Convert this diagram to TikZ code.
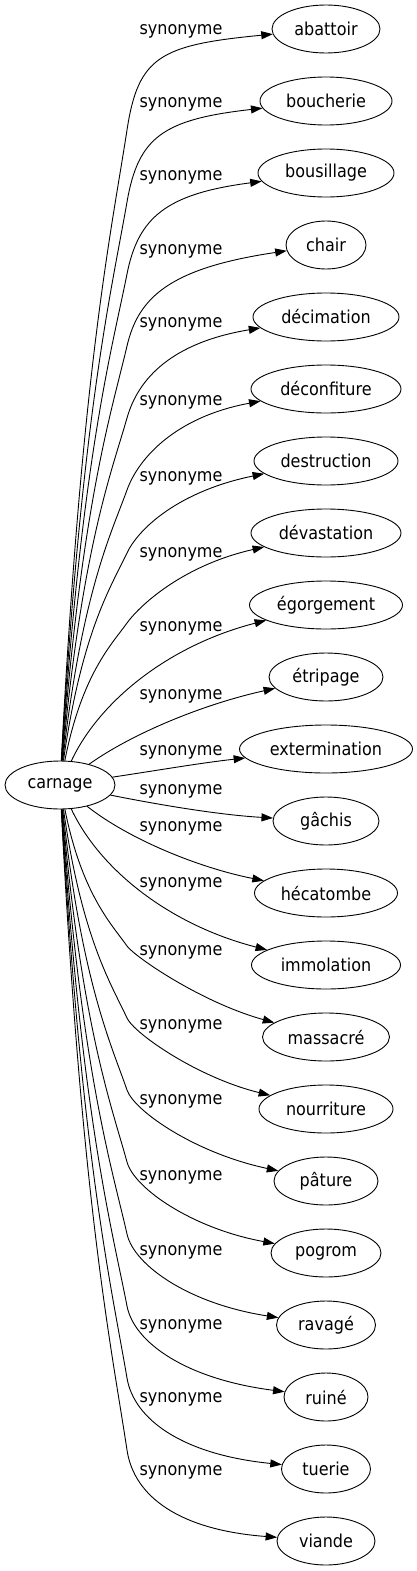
\documentclass[tikz,border=0pt]{standalone}
\usepackage{fontspec}
\setmainfont{DejaVu Sans}[FakeStretch=0.9]
\usetikzlibrary{arrows.meta,shapes.geometric}
\begin{document}
\begin{tikzpicture}[x=1pt,y=-1pt,
  every node/.style={font=\fontsize{17.8}{20}\selectfont},
  word/.style={draw,ellipse,line width=0.9pt,inner sep=0pt,minimum height=48pt},
  lab/.style={anchor=mid,inner sep=0pt},
  edge/.style={line width=0.9pt,-{Triangle[length=11.5pt,width=8pt]}}]
\useasboundingbox (0,0) rectangle (417,1571);
\node[word,minimum width=110pt] (carnage) at (60,785) {carnage};
\node[word,minimum width=108pt] (n0) at (326,29) {abattoir};
\node[word,minimum width=132pt] (n1) at (326,101) {boucherie};
\node[word,minimum width=136pt] (n2) at (326,173) {bousillage};
\node[word,minimum width=80pt] (n3) at (326,245) {chair};
\node[word,minimum width=146pt] (n4) at (326,317) {décimation};
\node[word,minimum width=150pt] (n5) at (326,389) {déconfiture};
\node[word,minimum width=144pt] (n6) at (326,461) {destruction};
\node[word,minimum width=150pt] (n7) at (326,533) {dévastation};
\node[word,minimum width=153pt] (n8) at (326,605) {égorgement};
\node[word,minimum width=114pt] (n9) at (326,677) {étripage};
\node[word,minimum width=173pt] (n10) at (326,749) {extermination};
\node[word,minimum width=106pt] (n11) at (326,821) {gâchis};
\node[word,minimum width=143pt] (n12) at (326,893) {hécatombe};
\node[word,minimum width=149pt] (n13) at (326,965) {immolation};
\node[word,minimum width=127pt] (n14) at (326,1037) {massacré};
\node[word,minimum width=134pt] (n15) at (326,1109) {nourriture};
\node[word,minimum width=104pt] (n16) at (326,1181) {pâture};
\node[word,minimum width=110pt] (n17) at (326,1253) {pogrom};
\node[word,minimum width=99pt] (n18) at (326,1325) {ravagé};
\node[word,minimum width=84pt] (n19) at (326,1397) {ruiné};
\node[word,minimum width=89pt] (n20) at (326,1469) {tuerie};
\node[word,minimum width=98pt] (n21) at (326,1541) {viande};
\node[lab] (l0) at (181,31.7) {synonyme};
\node[lab] (l1) at (181,105) {synonyme};
\node[lab] (l2) at (181,178) {synonyme};
\node[lab] (l3) at (181,251.7) {synonyme};
\node[lab] (l4) at (181,325) {synonyme};
\node[lab] (l5) at (181,402.7) {synonyme};
\node[lab] (l6) at (181,479) {synonyme};
\node[lab] (l7) at (181,555) {synonyme};
\node[lab] (l8) at (181,629) {synonyme};
\node[lab] (l9) at (181,697) {synonyme};
\node[lab] (l10) at (181,753) {synonyme};
\node[lab] (l11) at (181,791.7) {synonyme};
\node[lab] (l12) at (181,829) {synonyme};
\node[lab] (l13) at (181,885) {synonyme};
\node[lab] (l14) at (181,953) {synonyme};
\node[lab] (l15) at (181,1026.7) {synonyme};
\node[lab] (l16) at (181,1101.7) {synonyme};
\node[lab] (l17) at (181,1178) {synonyme};
\node[lab] (l18) at (181,1252.7) {synonyme};
\node[lab] (l19) at (181,1326.7) {synonyme};
\node[lab] (l20) at (181,1400) {synonyme};
\node[lab] (l21) at (181,1473) {synonyme};
% top edges
\draw[edge] (carnage) .. controls (82,365.5) and (112,228) .. (127,130) .. controls (138.25,56.5) and (160,45) .. (n0);
\draw[edge] (carnage) .. controls (82,410.5) and (112,288.7) .. (127,202) .. controls (138.25,137) and (163,119.4) .. (n1);
\draw[edge] (carnage) .. controls (82,455.5) and (112,349.5) .. (127,274) .. controls (138.25,217.4) and (166,193.8) .. (n2);
\draw[edge] (carnage) .. controls (82,500.5) and (112,410.3) .. (127,346) .. controls (138.25,297.8) and (169,268.2) .. (n3);
\draw[edge] (carnage) .. controls (82,545.5) and (112,471) .. (127,418) .. controls (138.25,378.2) and (172,342.6) .. (n4);
\draw[edge] (carnage) .. controls (82,590.5) and (112,531.8) .. (127,490) .. controls (138.25,458.6) and (175,417) .. (n5);
\draw[edge] (carnage) .. controls (82,629.9) and (112,585) .. (127,553) .. controls (138.25,529) and (178,491.4) .. (n6);
\draw[edge] (carnage) .. controls (82,673.6) and (112,644.1) .. (127,623) .. controls (138.25,607.2) and (181,565.8) .. (n7);
\draw[edge] (carnage) .. controls (100,700) and (170,645) .. (n8);
\draw[edge] (carnage) .. controls (130,735) and (200,705) .. (n9);
\draw[edge] (carnage) .. controls (160,770) and (200,763) .. (n10);
\draw[edge] (carnage) .. controls (160,805) and (220,815) .. (n11);
\draw[edge] (carnage) .. controls (130,840) and (200,868) .. (n12);
\draw[edge] (carnage) .. controls (100,870) and (170,925) .. (n13);
% bottom edges
\draw[edge] (carnage) .. controls (82,894.6) and (112,924.6) .. (127,946) .. controls (134,956) and (200,1002) .. (n14);
\draw[edge] (carnage) .. controls (82,939.6) and (112,985.4) .. (127,1018) .. controls (134,1033.3) and (197.2,1077.4) .. (n15);
\draw[edge] (carnage) .. controls (82,984.6) and (112,1046.2) .. (127,1090) .. controls (134,1110.6) and (194.3,1152.9) .. (n16);
\draw[edge] (carnage) .. controls (82,1029.6) and (112,1106.9) .. (127,1162) .. controls (134,1187.9) and (191.4,1228.3) .. (n17);
\draw[edge] (carnage) .. controls (82,1074.6) and (112,1167.7) .. (127,1234) .. controls (134,1265.2) and (188.6,1303.7) .. (n18);
\draw[edge] (carnage) .. controls (82,1119.6) and (112,1228.5) .. (127,1306) .. controls (134,1342.4) and (185.7,1379.1) .. (n19);
\draw[edge] (carnage) .. controls (82,1164.6) and (112,1289.2) .. (127,1378) .. controls (134,1419.7) and (182.9,1454.6) .. (n20);
\draw[edge] (carnage) .. controls (82,1209.6) and (112,1350) .. (127,1450) .. controls (134,1497) and (180,1530) .. (n21);
\end{tikzpicture}
\end{document}
